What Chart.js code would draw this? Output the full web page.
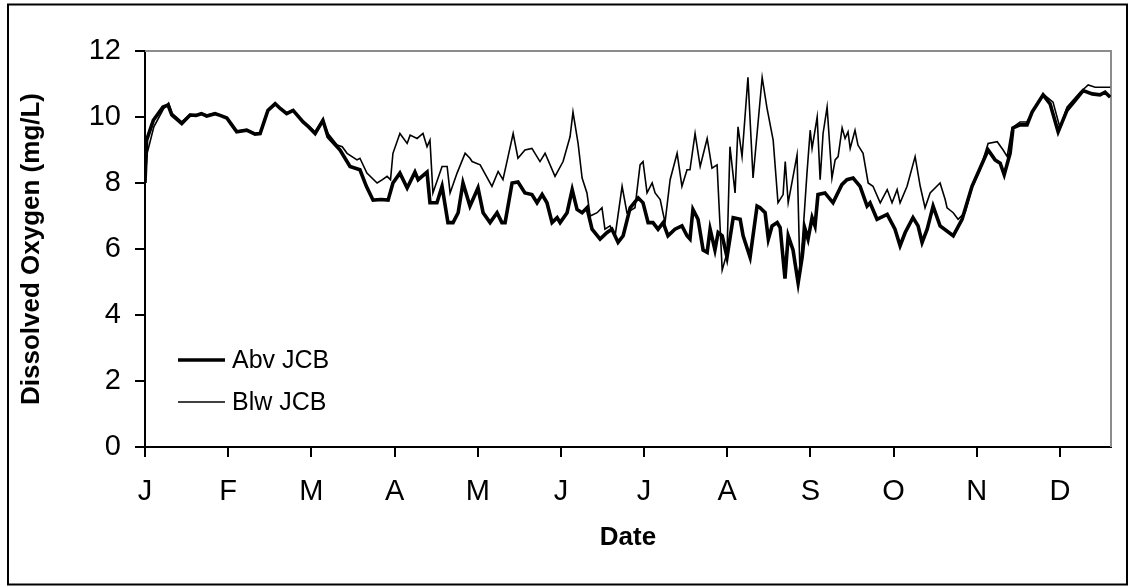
<!DOCTYPE html>
<html>
<head>
<meta charset="utf-8">
<script src="https://cdn.jsdelivr.net/npm/chart.js@4.4.1/dist/chart.umd.min.js"></script>
<style>
  html, body { margin: 0; padding: 0; background: #fff; }
  #wrap { width: 1129px; height: 586px; position: relative; }
</style>
</head>
<body>
<div id="wrap"><canvas id="c" width="1129" height="586"></canvas></div>
<script>
// Month ticks (day of year) and their one-letter labels
const monthTickDays = [0, 31, 62, 93, 124, 155, 186, 217, 248, 279, 310, 341];
const monthLabels = ['J', 'F', 'M', 'A', 'M', 'J', 'J', 'A', 'S', 'O', 'N', 'D'];
const yTicks = [0, 2, 4, 6, 8, 10, 12];

// Dissolved oxygen above JCB (day of year, mg/L)
const abvDay = [0, 0.6, 3.1, 6.7, 8.6, 10, 13.7, 16.8, 19, 21, 23, 26.1, 28, 30.5, 32, 34.2, 37.9, 41, 42.9, 45.8, 48.5, 50.5, 52.8, 55.2, 58.9, 61, 63.4, 66.3, 68.2, 72.7, 76.4, 80.1, 82.5, 85, 88, 90.6, 92.4, 95, 97.7, 100.6, 101.8, 105.1, 106.2, 108.8, 110.7, 112.9, 114.8, 116.7, 118.5, 121.1, 122.2, 124.1, 126, 128.6, 131.2, 133, 134.2, 136.8, 139, 141.6, 144.2, 146.1, 148, 149.8, 151.7, 153.6, 154.7, 157.3, 159.2, 161, 162.9, 164.7, 166.6, 169.6, 172.2, 174, 176.3, 178.2, 180.8, 183.8, 185.6, 187.5, 189.3, 191.2, 193.1, 194.9, 197.5, 200.1, 202, 203.1, 204.2, 206.1, 208, 209.5, 210.6, 212.4, 213.6, 215.1, 216.9, 219.2, 221.8, 222.9, 225.5, 228.1, 229.2, 231.1, 232.3, 233.7, 235.6, 236.7, 238.5, 239.7, 241.5, 243.4, 244.9, 246, 247.1, 248.6, 249.7, 250.8, 253.4, 256.4, 259.7, 261.6, 263.9, 266.5, 269.1, 270.2, 272.8, 276.6, 279.5, 281.4, 283.3, 286.2, 288.1, 289.6, 291.5, 293.7, 296.3, 301.2, 304.5, 308.2, 311.2, 314.2, 316.8, 318.7, 320.2, 322.4, 323.5, 326.1, 328.7, 330.6, 334.7, 337.3, 340.3, 343.6, 346.6, 349.6, 353, 355.9, 357.8, 359.7];
const abvDO = [8.0, 9.3, 9.9, 10.3, 10.36, 10.06, 9.8, 10.06, 10.05, 10.1, 10.03, 10.1, 10.05, 9.97, 9.8, 9.55, 9.6, 9.48, 9.5, 10.2, 10.4, 10.25, 10.1, 10.2, 9.85, 9.7, 9.5, 9.9, 9.4, 9.0, 8.5, 8.4, 7.9, 7.48, 7.5, 7.48, 8.0, 8.3, 7.85, 8.33, 8.1, 8.33, 7.4, 7.4, 7.9, 6.8, 6.8, 7.1, 8.0, 7.3, 7.5, 7.85, 7.1, 6.8, 7.1, 6.8, 6.8, 8.0, 8.03, 7.7, 7.65, 7.4, 7.65, 7.4, 6.8, 6.95, 6.8, 7.1, 7.8, 7.2, 7.1, 7.25, 6.6, 6.3, 6.5, 6.6, 6.2, 6.4, 7.25, 7.55, 7.4, 6.8, 6.8, 6.6, 6.8, 6.4, 6.6, 6.7, 6.4, 6.3, 7.2, 6.9, 5.97, 5.9, 6.6, 5.97, 6.5, 6.4, 5.75, 6.95, 6.9, 6.4, 5.75, 7.3, 7.25, 7.1, 6.3, 6.7, 6.8, 6.65, 5.1, 6.4, 5.97, 4.97, 5.75, 6.6, 6.3, 6.95, 6.7, 7.65, 7.7, 7.4, 7.95, 8.1, 8.15, 7.9, 7.3, 7.4, 6.9, 7.05, 6.6, 6.1, 6.5, 6.95, 6.7, 6.2, 6.6, 7.3, 6.7, 6.4, 6.9, 7.9, 8.45, 9.0, 8.7, 8.6, 8.25, 8.9, 9.67, 9.76, 9.76, 10.15, 10.67, 10.4, 9.55, 10.2, 10.5, 10.8, 10.7, 10.67, 10.75, 10.6];

// Dissolved oxygen below JCB (day of year, mg/L)
const blwDay = [0, 0.8, 3.3, 6.9, 8.8, 10.2, 13.7, 16.8, 19, 21, 23, 26.1, 28, 30.5, 32, 34.2, 37.9, 41, 42.9, 45.8, 48.5, 50.5, 52.8, 55.2, 58.9, 61, 63.4, 66.3, 68.2, 71.6, 73.5, 75.3, 79, 80.1, 82.7, 86.5, 88.5, 90.2, 91.5, 92.4, 95, 97.7, 98.8, 101.4, 103.6, 105.1, 106.2, 107.3, 110.7, 112.6, 113.7, 116.3, 119.3, 121.1, 121.9, 124.9, 129.3, 131.6, 133.4, 135.3, 137.2, 139, 141.6, 144.2, 147.2, 149.1, 152.8, 155.8, 158.4, 159.5, 161.4, 162.9, 164.7, 165.9, 168.5, 170.3, 171.4, 173.3, 175.2, 177.8, 179.6, 182.6, 184.5, 185.6, 187.1, 189, 190.1, 192, 193.8, 195.7, 198.3, 200.1, 202, 203.1, 205, 206.9, 209.5, 211.3, 213.2, 215.1, 216.9, 218, 219.9, 221, 222.5, 224.7, 226.6, 230, 231.8, 234.1, 235.9, 237.8, 238.6, 239.7, 243, 244.1, 245.3, 246.7, 247.9, 248.6, 250.5, 251.6, 252.7, 254.2, 256, 257.2, 258.3, 259.8, 260.9, 262, 262.8, 264.6, 265.7, 267.6, 269.5, 271.3, 274, 276.6, 278.4, 280.3, 281.4, 284, 287, 288.9, 290.7, 292.6, 296.3, 298.2, 298.9, 301.2, 303, 305.6, 308.2, 311.2, 314.2, 317.6, 319.8, 321.3, 323.1, 326.1, 328.7, 331, 334.7, 338.4, 341, 343.6, 348.5, 351.5, 354.1, 356.7, 359.7];
const blwDO = [8.0, 8.9, 9.7, 10.25, 10.42, 10.1, 9.85, 10.08, 10.05, 10.12, 10.05, 10.12, 10.05, 9.98, 9.82, 9.57, 9.62, 9.5, 9.52, 10.22, 10.42, 10.27, 10.12, 10.22, 9.88, 9.72, 9.55, 9.92, 9.5, 9.15, 9.1, 8.9, 8.7, 8.75, 8.3, 8.0, 8.1, 8.2, 8.1, 8.9, 9.5, 9.2, 9.45, 9.35, 9.5, 9.1, 9.3, 7.7, 8.5, 8.5, 7.7, 8.3, 8.9, 8.75, 8.65, 8.55, 7.9, 8.35, 8.1, 8.8, 9.5, 8.75, 9.0, 9.05, 8.65, 8.9, 8.2, 8.65, 9.4, 10.15, 9.2, 8.15, 7.7, 7.0, 7.1, 7.25, 6.6, 6.7, 6.4, 7.9, 7.1, 7.25, 8.55, 8.65, 7.7, 8.0, 7.7, 7.5, 6.8, 8.1, 8.9, 7.9, 8.4, 8.4, 9.5, 8.5, 9.35, 8.45, 8.55, 5.36, 5.88, 9.1, 7.7, 9.7, 8.8, 11.2, 8.15, 11.2, 10.27, 9.3, 7.4, 7.65, 8.65, 7.4, 8.85, 5.2, 6.6, 8.3, 9.6, 9.05, 10.0, 8.1, 9.5, 10.3, 8.15, 8.7, 8.8, 9.67, 9.35, 9.55, 9.05, 9.6, 9.15, 8.9, 8.0, 7.9, 7.4, 7.8, 7.4, 7.8, 7.4, 7.9, 8.8, 7.9, 7.25, 7.7, 8.0, 7.5, 7.25, 7.1, 6.9, 7.1, 7.85, 8.4, 9.2, 9.25, 9.0, 8.8, 9.67, 9.85, 9.85, 10.2, 10.7, 10.45, 9.67, 10.3, 10.75, 10.97, 10.9, 10.9, 10.9];

const toPoints = (days, vals) => days.map((d, i) => ({ x: d, y: vals[i] }));

const FONT = '"Liberation Sans", Arial, Helvetica, sans-serif';

// Grey top/right frame of the plot, outer black border and the inset legend
const framePlugin = {
  id: 'frame',
  beforeDatasetsDraw(chart) {
    const { ctx, chartArea: a } = chart;
    ctx.save();
    ctx.strokeStyle = '#8c8c8c';
    ctx.lineWidth = 2;
    ctx.beginPath();
    ctx.moveTo(a.left, a.top);
    ctx.lineTo(a.right, a.top);
    ctx.lineTo(a.right, a.bottom);
    ctx.stroke();
    ctx.restore();
  },
  afterDraw(chart) {
    const { ctx, chartArea: a } = chart;
    ctx.save();
    ctx.strokeStyle = '#000';
    ctx.lineWidth = 2;
    ctx.strokeRect(8, 4.5, 1119, 580);

    // legend entries inside the plot, lower left
    const rows = [360, 402];
    ctx.font = '25px ' + FONT;
    ctx.textBaseline = 'middle';
    ctx.textAlign = 'left';
    chart.data.datasets.forEach((ds, i) => {
      const y = rows[i];
      ctx.strokeStyle = ds.borderColor;
      ctx.lineWidth = ds.borderWidth;
      ctx.beginPath();
      ctx.moveTo(a.left + 33, y);
      ctx.lineTo(a.left + 80, y);
      ctx.stroke();
      ctx.fillStyle = '#000';
      ctx.fillText(ds.label, a.left + 87, y + 1);
    });
    ctx.restore();
  }
};

new Chart(document.getElementById('c'), {
  type: 'line',
  data: {
    datasets: [
      { label: 'Abv JCB', data: toPoints(abvDay, abvDO), borderColor: '#000', borderWidth: 3.6, pointRadius: 0, tension: 0 },
      { label: 'Blw JCB', data: toPoints(blwDay, blwDO), borderColor: '#000', borderWidth: 1.6, pointRadius: 0, tension: 0 }
    ]
  },
  options: {
    responsive: false,
    animation: false,
    layout: { padding: { left: 0, top: 51, right: 18, bottom: 0 } },
    plugins: { legend: { display: false }, tooltip: { enabled: false } },
    scales: {
      x: {
        type: 'linear',
        min: 0,
        max: 360,
        afterFit(scale) { scale.height = 139; },
        afterBuildTicks(scale) { scale.ticks = monthTickDays.map(v => ({ value: v })); },
        ticks: {
          autoSkip: false,
          maxRotation: 0,
          padding: 18,
          color: '#000',
          font: { family: FONT, size: 29 },
          callback: (v, i) => monthLabels[i]
        },
        grid: { drawOnChartArea: false, drawTicks: true, tickLength: 10, color: '#000', lineWidth: 2 },
        border: { display: true, color: '#000', width: 2 },
        title: {
          display: true,
          text: 'Date',
          color: '#000',
          font: { family: FONT, size: 26, weight: 'bold' },
          padding: { top: 0, bottom: 33 }
        }
      },
      y: {
        min: 0,
        max: 12,
        afterFit(scale) { scale.width = 145; },
        afterBuildTicks(scale) { scale.ticks = yTicks.map(v => ({ value: v })); },
        ticks: {
          padding: 14,
          color: '#000',
          font: { family: FONT, size: 29 }
        },
        grid: { drawOnChartArea: false, drawTicks: true, tickLength: 10, color: '#000', lineWidth: 2 },
        border: { display: true, color: '#000', width: 2 },
        title: {
          display: true,
          text: 'Dissolved Oxygen (mg/L)',
          color: '#000',
          font: { family: FONT, size: 26, weight: 'bold' },
          padding: { top: 16, bottom: 0 }
        }
      }
    }
  },
  plugins: [framePlugin]
});
</script>
</body>
</html>
